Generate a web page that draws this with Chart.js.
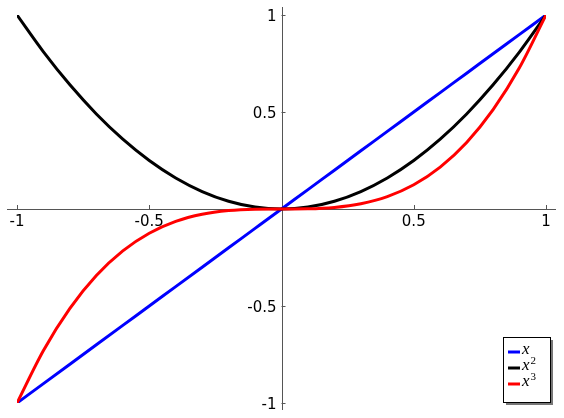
<!DOCTYPE html>
<html>
<head>
<meta charset="utf-8">
<script src="https://cdn.jsdelivr.net/npm/chart.js@4"></script>
<style>
  html, body { margin: 0; padding: 0; background: #fff; }
  #wrap { width: 564px; height: 418px; }
</style>
</head>
<body>
<div id="wrap"><canvas id="plot" width="564" height="418"></canvas></div>
<script>
//Sample points, x from -1 to 1 in steps of 0.1.
const xs = [-1, -0.9, -0.8, -0.7, -0.6, -0.5, -0.4, -0.3, -0.2, -0.1, 0,
            0.1, 0.2, 0.3, 0.4, 0.5, 0.6, 0.7, 0.8, 0.9, 1];
const linear = [-1, -0.9, -0.8, -0.7, -0.6, -0.5, -0.4, -0.3, -0.2, -0.1, 0,
                0.1, 0.2, 0.3, 0.4, 0.5, 0.6, 0.7, 0.8, 0.9, 1];
const square = [1, 0.81, 0.64, 0.49, 0.36, 0.25, 0.16, 0.09, 0.04, 0.01, 0,
                0.01, 0.04, 0.09, 0.16, 0.25, 0.36, 0.49, 0.64, 0.81, 1];
const cube = [-1, -0.729, -0.512, -0.343, -0.216, -0.125, -0.064, -0.027, -0.008, -0.001, 0,
              0.001, 0.008, 0.027, 0.064, 0.125, 0.216, 0.343, 0.512, 0.729, 1];

//Tick labels for both axes.
const xTicks = [-1, -0.5, 0.5, 1];
const yTicks = [-1, -0.5, 0.5, 1];

//Legend entries: base text, exponent and colour.
const legendNames = ['x', 'x', 'x'];
const legendPowers = ['', '2', '3'];
const legendColors = ['#0000ff', '#000000', '#ff0000'];

//Turning the x and y lists into {x, y} points.
function toPoints(ys) {
    return xs.map((x, i) => ({ x: x, y: ys[i] }));
}

//Draws the axes through the origin, sage style, with their ticks and labels.
const crossAxes = {
    id: 'crossAxes',
    beforeDatasetsDraw(chart) {
        const ctx = chart.ctx;
        const sx = chart.scales.x;
        const sy = chart.scales.y;
        const ox = sx.getPixelForValue(0);
        const oy = sy.getPixelForValue(0);
        ctx.save();
        ctx.strokeStyle = '#555555';
        ctx.lineWidth = 1;
        ctx.beginPath();
        ctx.moveTo(sx.left - 10, Math.round(oy) + 0.5);
        ctx.lineTo(sx.right + 10, Math.round(oy) + 0.5);
        ctx.moveTo(Math.round(ox) + 0.5, sy.top - 8);
        ctx.lineTo(Math.round(ox) + 0.5, sy.bottom + 7);
        xTicks.forEach(v => {
            const px = Math.round(sx.getPixelForValue(v)) + 0.5;
            ctx.moveTo(px, oy);
            ctx.lineTo(px, oy - 4);
        });
        yTicks.forEach(v => {
            const py = Math.round(sy.getPixelForValue(v)) + 0.5;
            ctx.moveTo(ox, py);
            ctx.lineTo(ox + 4, py);
        });
        ctx.stroke();

        ctx.fillStyle = '#000000';
        ctx.font = '15px "DejaVu Sans"';
        ctx.textBaseline = 'alphabetic';
        ctx.textAlign = 'center';
        xTicks.forEach(v => {
            ctx.fillText(String(v), sx.getPixelForValue(v), oy + 17);
        });
        ctx.textAlign = 'right';
        yTicks.forEach(v => {
            ctx.fillText(String(v), ox - 5, sy.getPixelForValue(v) + 5.5);
        });
        ctx.restore();
    }
};

//Boxed legend in the lower right corner with a grey drop shadow.
const boxLegend = {
    id: 'boxLegend',
    afterDraw(chart) {
        const ctx = chart.ctx;
        const left = 503, top = 337, w = 47, h = 65;
        ctx.save();
        ctx.fillStyle = '#777777';
        ctx.fillRect(left + 3, top + 3, w, h);
        ctx.fillStyle = '#ffffff';
        ctx.fillRect(left, top, w, h);
        ctx.strokeStyle = '#000000';
        ctx.lineWidth = 1;
        ctx.strokeRect(left + 0.5, top + 0.5, w, h);
        legendNames.forEach((name, i) => {
            const y = 352 + i * 16;
            ctx.strokeStyle = legendColors[i];
            ctx.lineWidth = 3;
            ctx.beginPath();
            ctx.moveTo(508, y);
            ctx.lineTo(520, y);
            ctx.stroke();
            ctx.fillStyle = '#000000';
            ctx.textAlign = 'left';
            ctx.textBaseline = 'alphabetic';
            ctx.font = 'italic 17px "Liberation Serif"';
            ctx.fillText(name, 522, y + 2);
            if (legendPowers[i]) {
                const nw = ctx.measureText(name).width;
                ctx.font = '11px "Liberation Serif"';
                ctx.fillText(legendPowers[i], 523 + nw, y - 4);
            }
        });
        ctx.restore();
    }
};

const lineStyle = { borderWidth: 3, pointRadius: 0, fill: false, cubicInterpolationMode: 'monotone' };

new Chart(document.getElementById('plot'), {
    type: 'line',
    data: {
        datasets: [
            Object.assign({ label: 'x', data: toPoints(linear), borderColor: '#0000ff', order: 2 }, lineStyle),
            Object.assign({ label: 'x^2', data: toPoints(square), borderColor: '#000000', order: 1 }, lineStyle),
            Object.assign({ label: 'x^3', data: toPoints(cube), borderColor: '#ff0000', order: 0 }, lineStyle)
        ]
    },
    options: {
        responsive: false,
        animation: false,
        layout: { padding: { left: 17, right: 18, top: 15, bottom: 15 } },
        plugins: { legend: { display: false }, tooltip: { enabled: false } },
        scales: {
            x: { type: 'linear', min: -1, max: 1, display: false },
            y: { type: 'linear', min: -1, max: 1, display: false }
        }
    },
    plugins: [crossAxes, boxLegend]
});
</script>
</body>
</html>
